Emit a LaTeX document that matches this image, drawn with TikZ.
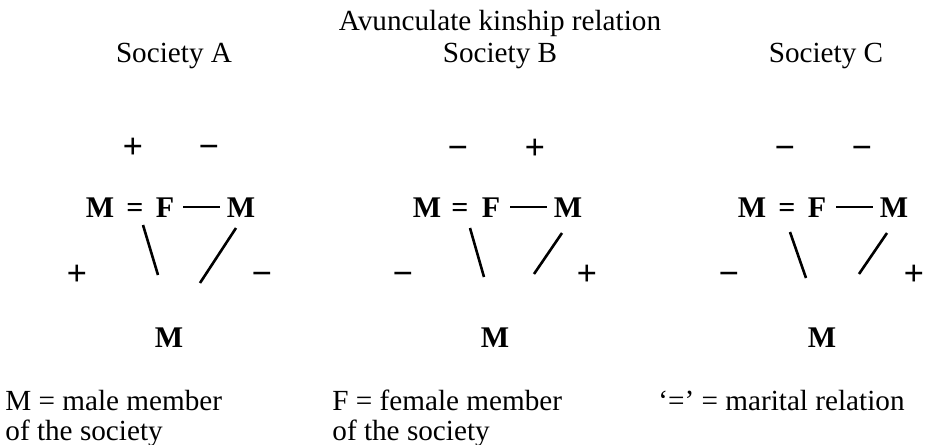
\documentclass[tikz,border=0pt]{standalone}
\usepackage{fontspec}
\setmainfont{Liberation Serif}
\usetikzlibrary{calc}
\begin{document}
\begin{tikzpicture}[x=0.5pt,y=-0.5pt,
  txt/.style={font=\fontsize{14.6}{17}\selectfont, inner sep=0pt, anchor=base},
  sym/.style={font=\fontsize{15}{17}\selectfont\bfseries, inner sep=0pt, anchor=base},
  sgn/.style={font=\fontsize{18}{20}\selectfont\bfseries, inner sep=0pt, anchor=base},
  legend/.style={txt, anchor=base west},
  link/.style={line width=1.3pt}]
\useasboundingbox (0,0) rectangle (928,445);
% headings
\node[txt] (title) at (500,30) {Avunculate kinship relation};
\node[txt] (socA) at (174,62) {Society A};
\node[txt] (socB) at (500,62) {Society B};
\node[txt] (socC) at (826,62) {Society C};
% ---------- Society A ----------
\node[sgn] (A-tp) at (133,158) {+};
\node[sgn] (A-tm) at (209,158) {−};
\node[sym] (A-M1) at (100,217) {M};
\node[sym] (A-eq) at (135,217) {=};
\node[sym] (A-F)  at (165,217) {F};
\node[sym] (A-M2) at (241,217) {M};
\node[sgn] (A-lp) at (77,285) {+};
\node[sgn] (A-lm) at (262,285) {−};
\node[sym] (A-M3) at (169,347) {M};
\draw[link] ($(A-F.base)+(18,-10)$) -- ($(A-M2.base)+(-21,-10)$);
\coordinate (A-b1) at (143,225); \coordinate (A-b2) at (158,275);
\coordinate (A-s1) at (236,228); \coordinate (A-s2) at (200,283);
\draw[link] (A-b1) -- (A-b2);
\draw[link] (A-s1) -- (A-s2);
% ---------- Society B ----------
\node[sgn] (B-tm) at (458,159) {−};
\node[sgn] (B-tp) at (535,159) {+};
\node[sym] (B-M1) at (427,217) {M};
\node[sym] (B-eq) at (460,217) {=};
\node[sym] (B-F)  at (491,217) {F};
\node[sym] (B-M2) at (568,217) {M};
\node[sgn] (B-lm) at (403,285) {−};
\node[sgn] (B-lp) at (587,285) {+};
\node[sym] (B-M3) at (495,347) {M};
\draw[link] ($(B-F.base)+(19,-10)$) -- ($(B-M2.base)+(-21,-10)$);
\coordinate (B-b1) at (470,228); \coordinate (B-b2) at (484,277);
\coordinate (B-s1) at (562,233); \coordinate (B-s2) at (534,274);
\draw[link] (B-b1) -- (B-b2);
\draw[link] (B-s1) -- (B-s2);
% ---------- Society C ----------
\node[sgn] (C-tm1) at (785,159) {−};
\node[sgn] (C-tm2) at (862,159) {−};
\node[sym] (C-M1) at (752,217) {M};
\node[sym] (C-eq) at (787,217) {=};
\node[sym] (C-F)  at (817,217) {F};
\node[sym] (C-M2) at (894,217) {M};
\node[sgn] (C-lm) at (729,285) {−};
\node[sgn] (C-lp) at (914,285) {+};
\node[sym] (C-M3) at (822,347) {M};
\draw[link] ($(C-F.base)+(19,-10)$) -- ($(C-M2.base)+(-21,-10)$);
\coordinate (C-b1) at (790,232); \coordinate (C-b2) at (806,278);
\coordinate (C-s1) at (887,233); \coordinate (C-s2) at (859,274);
\draw[link] (C-b1) -- (C-b2);
\draw[link] (C-s1) -- (C-s2);
% ---------- legend ----------
\node[legend] (legM1) at (5,410) {M = male member};
\node[legend] (legM2) at (5,440) {of the society};
\node[legend] (legF1) at (332,410) {F = female member};
\node[legend] (legF2) at (332,440) {of the society};
\node[legend] (legEq) at (658,410) {‘=’ = marital relation};
\end{tikzpicture}
\end{document}
